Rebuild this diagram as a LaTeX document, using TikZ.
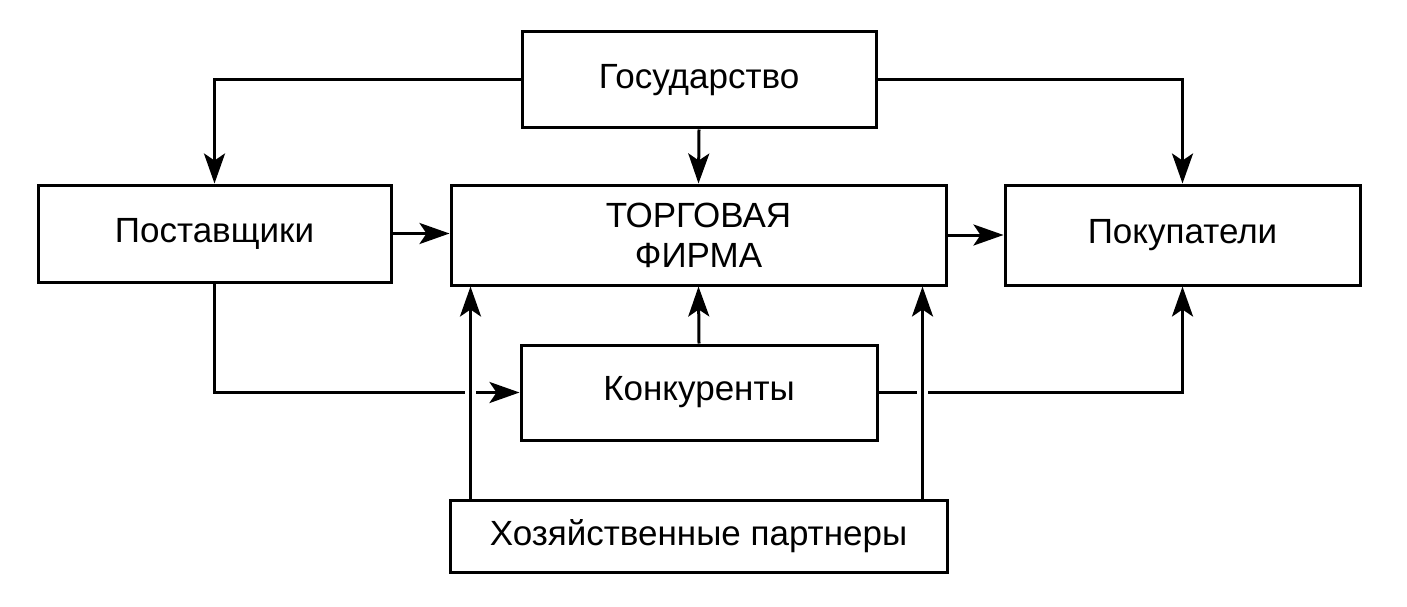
\documentclass[tikz,border=0pt]{standalone}
\usepackage{fontspec}
\setmainfont{Liberation Sans}
\usetikzlibrary{arrows.meta,calc}
\begin{document}
\begin{tikzpicture}[x=1pt,y=-1pt,
  box/.style={draw, line width=3pt, inner sep=0pt, align=center, font=\fontsize{35}{40}\selectfont},
  conn/.style={line width=3pt},
  arr/.style={conn, -{Stealth[length=30pt, width=21pt, inset=7pt]}},
  gap/.style={white, line width=7pt}]
\useasboundingbox (0,0) rectangle (1407,607);
\node[box, minimum width=354pt, minimum height=96pt] (gos) at (699,80) {Государство};
\node[box, minimum width=353pt, minimum height=97pt] (post) at (214.5,233.5) {Поставщики};
\node[box, minimum width=495pt, minimum height=100pt] (firm) at (698.5,235) {ТОРГОВАЯ\\ФИРМА};
\node[box, minimum width=355pt, minimum height=100pt] (pok) at (1182.5,235) {Покупатели};
\node[box, minimum width=356pt, minimum height=95pt] (konk) at (699,392.5) {Конкуренты};
\node[box, minimum width=497pt, minimum height=72pt] (hoz) at (698.5,536) {Хозяйственные партнеры};
\path (hoz.north west) ++(22,0) coordinate (h1);
\path (hoz.north east) ++(-26,0) coordinate (h2);
% top connectors
\draw[arr] (gos.west) -| (post.north);
\draw[arr] (gos.east) -| (pok.north);
\draw[arr] (gos.south) -- (firm.north);
\draw[arr] (post.east) -- (post.east -| firm.west);
\draw[arr] (firm.east) -- (pok.west);
% lower connectors
\draw[arr] (post.south) |- (konk.west);
\draw[arr] (konk.east) -| (pok.south);
\draw[arr] (konk.north) -- (firm.south);
% gaps at crossings
\coordinate (c1) at (h1 |- konk.west);
\coordinate (c2) at (h2 |- konk.east);
\draw[gap] ($(c1)+(-5.5,0)$) -- ($(c1)+(5.5,0)$);
\draw[gap] ($(c2)+(-5.5,0)$) -- ($(c2)+(5.5,0)$);
\draw[arr] (h1) -- (h1 |- firm.south);
\draw[arr] (h2) -- (h2 |- firm.south);
\end{tikzpicture}
\end{document}
